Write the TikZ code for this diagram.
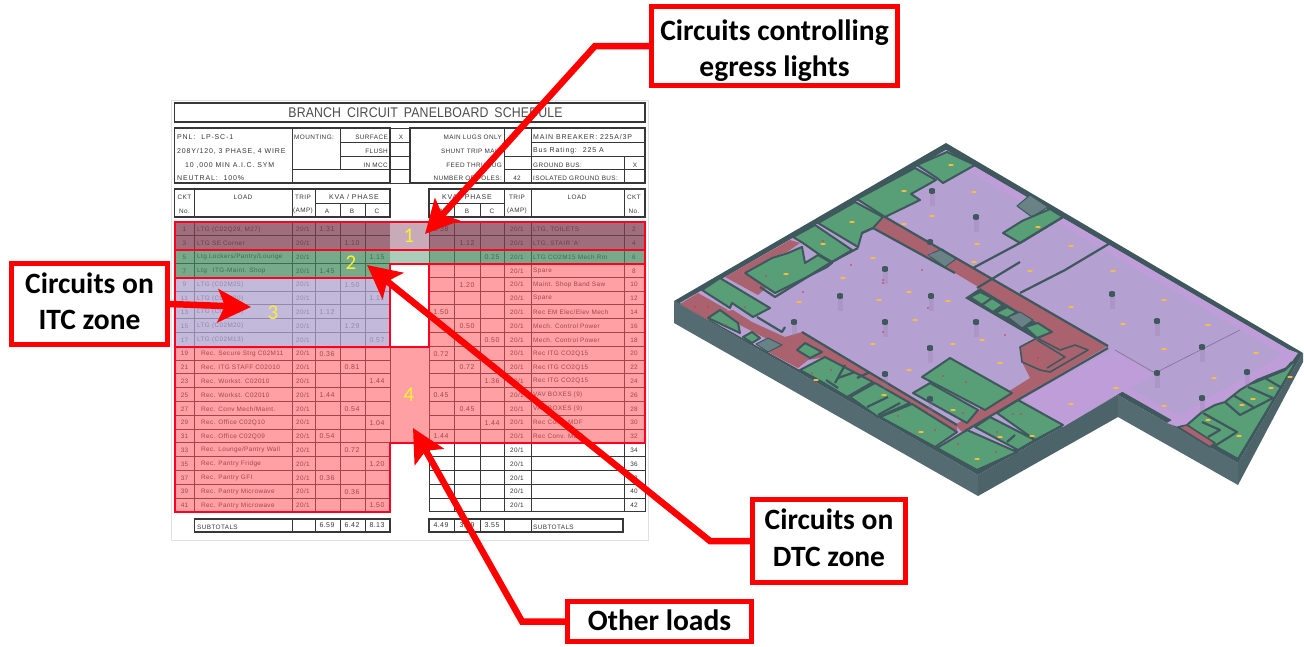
\documentclass[tikz,border=0pt]{standalone}
\usepackage{fontspec}
\usetikzlibrary{arrows.meta}
\setmainfont{Liberation Sans}
\newfontfamily\cad[LetterSpace=6]{Liberation Sans}
\newfontfamily\cadw[LetterSpace=12]{Liberation Sans}
\newfontfamily\ttl[FakeStretch=0.88,LetterSpace=1]{Liberation Sans}
\newfontfamily\lab{Carlito}
\newcommand{\shiftline}[2]{\raisebox{#1}[\height][\depth]{#2}}
\definecolor{ink}{RGB}{55,55,55}
\definecolor{rd}{RGB}{255,0,0}
\definecolor{zr}{RGB}{255,0,35}
\definecolor{zmar}{RGB}{128,62,82}
\definecolor{zgrn}{RGB}{62,134,91}
\definecolor{zpur}{RGB}{175,162,208}
\definecolor{zpnk}{RGB}{255,82,91}
\definecolor{midmar}{RGB}{200,170,185}
\definecolor{midgrn}{RGB}{170,205,185}
\definecolor{ylw}{RGB}{250,240,50}
\definecolor{wallc}{RGB}{62,88,93}
\definecolor{wallf}{RGB}{84,108,113}
\definecolor{wallg}{RGB}{76,100,105}
\definecolor{flr}{RGB}{180,160,209}
\definecolor{flrb}{RGB}{191,157,216}
\definecolor{grnf}{RGB}{88,158,118}
\definecolor{marf}{RGB}{170,98,110}
\definecolor{gryf}{RGB}{104,130,134}
\definecolor{lite}{RGB}{250,190,60}
\definecolor{dot}{RGB}{215,50,70}
\tikzset{
 x=1pt,y=-1pt,
 cell/.style={font=\cad\fontsize{6.4}{7}\selectfont,text=ink,inner sep=0pt},
 cellw/.style={font=\cadw\fontsize{7}{8}\selectfont,text=ink,inner sep=0pt},
 tline/.style={draw=ink,line width=0.9pt},
 tbox/.style={draw=ink,line width=1.1pt},
 zedge/.style={draw=zr,line width=2.4pt,line join=miter},
 zedgeb/.style={draw=zr,line width=1.4pt},
 num/.style={font=\lab\fontsize{21}{21}\selectfont,text=ylw,inner sep=0pt},
 call/.style={draw=rd,line width=5pt,fill=white,align=center,inner sep=0pt,
   font=\lab\bfseries\fontsize{29.5}{35}\selectfont,text=black},
 arr/.style={draw=rd,line width=6.5pt,line join=miter,
   -{Stealth[length=33pt,width=33pt,inset=7pt]}},
 room/.style={fill=grnf,draw=wallc,line width=2pt,line join=round},
 mroom/.style={fill=marf,draw=wallc,line width=1.6pt,line join=round},
 gland/.style={fill=gryf,draw=wallc,line width=1pt,line join=round},
 wl/.style={draw=wallc,line width=2.2pt,line join=round},
}
\begin{document}
\begin{tikzpicture}
\useasboundingbox (0,0) rectangle (1304,646);
\fill[white] (0,0) rectangle (1304,646);
%% ---------- schedule sheet
\draw[black!12,line width=0.8pt] (171,100) rectangle (648,540);
\draw[tbox] (174.5,103) rectangle (645,122);
\node[cell,font=\ttl\fontsize{14}{14}\selectfont,text=black!70] (title) at (425.5,113) {BRANCH\hspace{6pt}CIRCUIT\hspace{6pt}PANELBOARD\hspace{6pt}SCHEDULE};
% info block
\draw[tbox] (174.5,128) rectangle (390,183);
\draw[tbox] (410,128) rectangle (645,183);
\draw[tline] (292,128)--(292,183) (340,128)--(340,169) (390,128)--(390,183);
\draw[tline] (340,142)--(410,142) (340,156)--(410,156) (292,169)--(410,169);
\draw[tline] (390,128)--(410,128) (390,183)--(410,183);
\draw[tline] (504,128)--(504,183) (531,128)--(531,183) (624,156)--(624,183);
\draw[tline] (531,142)--(645,142) (504,156)--(645,156) (504,169)--(645,169);
\node[cellw,anchor=west] (i1) at (177,137) {PNL:\hspace{6pt}LP-SC-1};
\node[cellw,anchor=west] (i2) at (177,151) {208Y/120, 3 PHASE, 4 WIRE};
\node[cellw,anchor=west] (i3) at (185,165) {10 ,000 MIN A.I.C. SYM};
\node[cellw,anchor=west] (i4) at (177,178) {NEUTRAL:\hspace{6pt}100\%};
\node[cell,anchor=west] (i5) at (294,137) {MOUNTING:};
\node[cell,anchor=east] (i6) at (388,137) {SURFACE};
\node[cell,anchor=east] (i7) at (388,151) {FLUSH};
\node[cell,anchor=east] (i8) at (388,165) {IN MCC};
\node[cell] (i9) at (401,137) {X};
\node[cell,anchor=east] (i10) at (502,137) {MAIN LUGS ONLY};
\node[cell,anchor=east] (i11) at (502,151) {SHUNT TRIP MAIN};
\node[cell,anchor=east] (i12) at (502,165) {FEED THRU LUG};
\node[cell,anchor=east] (i13) at (502,178) {NUMBER OF POLES:};
\node[cell] (i14) at (517,178) {42};
\node[cellw,anchor=west] (i15) at (533,137) {MAIN BREAKER: 225A/3P};
\node[cellw,anchor=west] (i16) at (533,151) {Bus Rating:\hspace{6pt}225 A};
\node[cell,anchor=west] (i17) at (533,165) {GROUND BUS:};
\node[cell,anchor=west] (i18) at (533,178) {ISOLATED GROUND BUS:};
\node[cell] (i19) at (635,165) {X};
% header
\draw[tbox] (174.5,189) rectangle (390,217);
\draw[tbox] (429,189) rectangle (645,217);
\draw[tline] (194.5,189)--(194.5,217) (292,189)--(292,217) (315,189)--(315,217)
  (315,203)--(390,203) (340,203)--(340,217) (365,203)--(365,217);
\draw[tline] (504,189)--(504,217) (531,189)--(531,217) (624,189)--(624,217)
  (429,203)--(504,203) (454,203)--(454,217) (480,203)--(480,217);
\node[cell] (h1) at (184.5,197) {CKT};
\node[cell] (h2) at (184.5,211) {No.};
\node[cell] (h3) at (243,197) {LOAD};
\node[cell] (h4) at (303,197) {TRIP};
\node[cell] (h5) at (303,211) {(AMP)};
\node[cellw] (h6) at (354,197) {KVA / PHASE};
\node[cell] (h7) at (327,211) {A};
\node[cell] (h8) at (352,211) {B};
\node[cell] (h9) at (377,211) {C};
\node[cellw] (h10) at (467,197) {KVA / PHASE};
\node[cell] (h11) at (441,211) {A};
\node[cell] (h12) at (467,211) {B};
\node[cell] (h13) at (492,211) {C};
\node[cell] (h14) at (517,197) {TRIP};
\node[cell] (h15) at (517,211) {(AMP)};
\node[cell] (h16) at (577,197) {LOAD};
\node[cell] (h17) at (634,197) {CKT};
\node[cell] (h18) at (634,211) {No.};
% body lines
\foreach \r in {0,...,21}{
  \pgfmathsetmacro\yy{222+13.8*\r}
  \draw[tline] (175,\yy)--(390,\yy) (429,\yy)--(645,\yy);
}
\draw[tline] (175,222)--(175,512) (194.5,222)--(194.5,512) (292,222)--(292,512) (315,222)--(315,512)
  (340,222)--(340,512) (365,222)--(365,512) (390,222)--(390,512);
\draw[tline] (429,222)--(429,512) (454,222)--(454,512) (480,222)--(480,512) (504,222)--(504,512)
  (531,222)--(531,512) (624,222)--(624,512) (645,222)--(645,512);
\foreach \r in {0,...,20}{
  \pgfmathsetmacro\yy{222+13.8*\r+7.4}
  \pgfmathtruncatemacro\lnum{2*\r+1}
  \pgfmathtruncatemacro\rnum{2*\r+2}
  \node[cell] (ln\r) at (184.5,\yy) {\lnum};
  \node[cell] (lt\r) at (303,\yy) {20/1};
  \node[cell] (rt\r) at (517,\yy) {20/1};
  \node[cell] (rn\r) at (634,\yy) {\rnum};
}
\foreach \r/\l in {0/{LTG (C02Q29, M27)},1/{LTG SE Corner},2/{Ltg Lockers/Pantry/Lounge},3/{Ltg\hspace{6pt}ITG-Maint. Shop},
  4/{LTG (C02M25)},5/{LTG (C02M20)},6/{LTG (C02M20)},7/{LTG (C02M20)},8/{LTG (C02M13)},
  9/{Rec. Secure Strg C02M11},10/{Rec. ITG STAFF C02010},11/{Rec. Workst. C02010},12/{Rec. Workst. C02010},
  13/{Rec. Conv Mech/Maint.},14/{Rec. Office C02Q10},15/{Rec. Office C02Q09},16/{Rec. Lounge/Pantry Wall},
  17/{Rec. Pantry Fridge},18/{Rec. Pantry GFI},19/{Rec. Pantry Microwave},20/{Rec. Pantry Microwave}}{
  \pgfmathsetmacro\yy{222+13.8*\r+7.4}
  \pgfmathsetmacro\lx{\r<9?197:201}
  \node[cell,anchor=west] (ll\r) at (\lx,\yy) {\l};
}
\foreach \r/\l in {0/{LTG, TOILETS},1/{LTG, STAIR 'A'},2/{LTG CO2M15 Mech Rm},3/{Spare},4/{Maint. Shop Band Saw},5/{Spare},
  6/{Rec EM Elec/Elev Mech},7/{Mech. Control Power},8/{Mech. Control Power},9/{Rec ITG CO2Q15},10/{Rec ITG CO2Q15},
  11/{Rec ITG CO2Q15},12/{VAV BOXES (9)},13/{VAV BOXES (9)},14/{Rec Conv. MDF},15/{Rec Conv. MDF}}{
  \pgfmathsetmacro\yy{222+13.8*\r+7.4}
  \node[cell,anchor=west] (rl\r) at (533,\yy) {\l};
}
\foreach \r/\cx/\v in {0/327/1.31,1/352/1.10,2/377/1.15,3/327/1.45,4/352/1.50,5/377/1.12,6/327/1.12,7/352/1.29,8/377/0.57,
  9/327/0.36,10/352/0.81,11/377/1.44,12/327/1.44,13/352/0.54,14/377/1.04,15/327/0.54,16/352/0.72,17/377/1.20,
  18/327/0.36,19/352/0.36,20/377/1.50}{
  \pgfmathsetmacro\yy{222+13.8*\r+7.4}
  \node[cell,font=\cad\fontsize{7}{8}\selectfont] (lv\r) at (\cx,\yy) {\v};
}
\foreach \r/\cx/\v in {0/441/0.38,1/467/1.12,2/492/0.25,4/467/1.20,6/441/1.50,7/467/0.50,8/492/0.50,
  9/441/0.72,10/467/0.72,11/492/1.36,12/441/0.45,13/467/0.45,14/492/1.44,15/441/1.44}{
  \pgfmathsetmacro\yy{222+13.8*\r+7.4}
  \node[cell,font=\cad\fontsize{7}{8}\selectfont] (rv\r) at (\cx,\yy) {\v};
}
% subtotals
\draw[tbox] (194.5,519) rectangle (390,532);
\draw[tline] (292,519)--(292,532) (315,519)--(315,532) (340,519)--(340,532) (365,519)--(365,532);
\draw[tbox] (429,519) rectangle (623,532);
\draw[tline] (454,519)--(454,532) (480,519)--(480,532) (504,519)--(504,532) (531,519)--(531,532);
\node[cell,anchor=west] (s1) at (197,527) {SUBTOTALS};
\node[cell,font=\cad\fontsize{7}{8}\selectfont] (s2) at (327,525.5) {6.59};
\node[cell,font=\cad\fontsize{7}{8}\selectfont] (s3) at (352,525.5) {6.42};
\node[cell,font=\cad\fontsize{7}{8}\selectfont] (s4) at (377,525.5) {8.13};
\node[cell,font=\cad\fontsize{7}{8}\selectfont] (s5) at (441,525.5) {4.49};
\node[cell,font=\cad\fontsize{7}{8}\selectfont] (s6) at (467,525.5) {3.99};
\node[cell,font=\cad\fontsize{7}{8}\selectfont] (s7) at (492,525.5) {3.55};
\node[cell,anchor=west] (s8) at (533,527) {SUBTOTALS};
%% ---------- zones
\fill[zmar,fill opacity=0.75] (175,222) rectangle (390,250) (429,222) rectangle (645,250);
\fill[midmar] (390,222) rectangle (429,250);
\fill[zgrn,fill opacity=0.7] (175,250) rectangle (390,278) (429,250) rectangle (645,264);
\fill[midgrn] (390,250) rectangle (429,264);
\fill[zpur,fill opacity=0.75] (175,278) rectangle (390,346);
\fill[zpnk,fill opacity=0.55] (175,347)--(429,347)--(429,264)--(645,264)--(645,443)--(390,443)--(390,512)--(175,512)--cycle;
\draw[zedgeb] (175,347)--(429,347)--(429,264)--(645,264)--(645,443)--(390,443)--(390,512)--(175,512)--cycle;
\draw[zedgeb] (175,278) rectangle (390,346.5);
\draw[zedge] (175,250)--(645,250)--(645,264)--(390,264)--(390,278)--(175,278)--cycle;
\draw[zedge] (175,222) rectangle (645,250);
\node[num] (n1) at (409,236) {1};
\node[num] (n2) at (351,263) {2};
\node[num] (n3) at (273,313) {3};
\node[num] (n4) at (409,395) {4};
%% ---------- building
\fill[wallf] (674,301)--(978,475)--(978,496)--(674,323)--cycle;
\fill[wallg] (978,475)--(1118,395)--(1118,417)--(978,496)--cycle;
\fill[wallf] (1118,395)--(1238,463)--(1238,485)--(1118,417)--cycle;
\fill[wallg] (1238,463)--(1303,353)--(1303,362)--(1238,485)--cycle;
\fill[wallc] (674,301)--(946,143)--(1303,353)--(1238,463)--(1118,395)--(978,475)--cycle;
\begin{scope}
\clip (680,303)--(946,150)--(1296,354)--(1237,457)--(1118,389)--(978,469)--cycle;
\fill[flr] (660,130) rectangle (1304,500);
\draw[flrb,line width=14pt] (680,303)--(946,150)--(1296,354)--(1237,457)--(1118,389)--(978,469)--cycle;
\end{scope}
% tinted floor zones
\fill[flrb] (1023,398)--(1112,350)--(1155,375)--(1120,393)--(1063,427)--cycle;
\fill[flrb] (1167,423)--(1290,350)--(1298,353)--(1287,368)--(1215,405)--(1203,413)--(1178,427)--cycle;
\draw[flrb!70!black,line width=0.6pt] (1115,350)--(1155,373)--(1240,330);
% corridors
\fill[marf] (873,228)--(885,217)--(1108,346)--(962,432)--(955,425)--(1030,378)--(1022,362)--(1020,348)--(1037,340)--(1052,332)--(980,288)--(955,273)--(875,228)--cycle;
\fill[marf] (733,310)--(752,322)--(785,337)--(802,332)--(957,425)--(957,434)--(825,357)--(808,360)--(798,368)--(768,352)--(780,345)--(763,337)--(740,325)--(720,312)--cycle;
\fill[marf] (680,304)--(698,293)--(728,310)--(708,320)--cycle;
\fill[marf] (790,240)--(725,277)--(758,295)--(767,287)--(743,273)--(772,257)--(787,252)--(800,243)--cycle;
% rooms NW
\path[room] (947,152)--(917,165)--(937,178)--(943,183)--(975,165)--cycle;
\path[room] (915,168)--(857,199)--(885,217)--(920,200)--(911,194)--(936,180)--cycle;
\path[room] (855,202)--(818,223)--(858,247)--(862,233)--(873,228)--(883,217)--cycle;
\path[room] (815,225)--(793,237)--(803,243)--(820,255)--(832,262)--(852,250)--cycle;
\path[room] (772,258)--(745,273)--(775,293)--(827,267)--(832,263)--(818,255)--(805,263)--(802,247)--(788,253)--cycle;
\path[room] (720,278)--(702,290)--(730,308)--(732,303)--(753,317)--(770,308)--cycle;
\path[room] (708,318)--(720,310)--(738,323)--(740,333)--cycle;
\path[room] (743,337)--(752,332)--(760,338)--(752,343)--cycle;
\path[gland] (756,344)--(768,338)--(782,345)--(768,352)--cycle;
% rooms SW
\path[room] (797,350)--(805,343)--(822,352)--(810,358)--cycle;
\path[room] (800,370)--(825,357)--(873,382)--(847,397)--(822,382)--cycle;
\path[room] (850,397)--(875,383)--(910,403)--(878,417)--cycle;
\path[room] (880,417)--(912,404)--(957,432)--(935,447)--cycle;
\path[room] (937,448)--(967,430)--(1017,452)--(977,470)--cycle;
\path[room] (975,427)--(990,417)--(1035,440)--(1018,450)--cycle;
\path[room] (997,413)--(1018,400)--(1063,425)--(1035,440)--cycle;
\draw[wl] (835,383)--(845,365) (838,378)--(855,372) (857,378)--(870,372) (867,407)--(888,397) (878,415)--(900,403) (1007,442)--(1015,435) (826,380)--(838,388);
% central rooms
\path[room] (922,377)--(950,358)--(1012,393)--(985,410)--cycle;
\path[room] (913,393)--(930,383)--(978,410)--(967,423)--cycle;
% corridor block
\fill[wallc] (965,298)--(980,288)--(1052,332)--(1037,340)--cycle;
\path[room] (970,297)--(980,292)--(992,298)--(982,305)--cycle;
\path[room] (982,305)--(992,298)--(1003,305)--(993,312)--cycle;
\path[room] (995,313)--(1007,307)--(1017,312)--(1007,318)--cycle;
\path[room] (1025,327)--(1038,323)--(1052,332)--(1037,338)--cycle;
\path[gland] (1008,317)--(1020,312)--(1033,320)--(1022,328)--cycle;
\path[gland] (928,255)--(942,249)--(956,259)--(945,267)--cycle;
\path[gland] (1017,206)--(1030,195)--(1048,207)--(1032,217)--cycle;
\path[mroom] (1020,347)--(1037,338)--(1060,350)--(1075,345)--(1088,350)--(1050,372)--(1040,370)--(1022,362)--cycle;
\draw[wl,line width=1.5pt] (1037,340)--(1065,357)--(1047,368);
% room NE
\path[room] (1022,221)--(1050,209)--(1063,217)--(1020,243)--(1003,233)--cycle;
% long walls
\draw[wl] (873,228)--(955,273) (977,288)--(1020,262);
\draw[wl] (885,217)--(1108,346) (1108,348)--(1023,397)--(965,431);
\draw[wl] (973,268)--(1020,243)--(1063,217);
\draw[wl] (1020,293)--(1065,270)--(1112,242);
\draw[wl] (858,248)--(830,263)--(775,297)--(760,287);
\draw[wl] (757,317)--(782,332)--(785,327) (802,332)--(957,425);
\draw[wl] (862,233)--(873,228);
% rooms SE
\path[room] (1187,425)--(1202,412)--(1215,405)--(1225,402)--(1240,390)--(1257,380)--(1287,368)--(1299,357)--(1238,459)--(1213,445)--cycle;
\path[mroom] (1178,427)--(1187,425)--(1215,443)--(1210,447)--cycle;
\draw[wl] (1203,413)--(1237,432)--(1213,447) (1225,402)--(1240,415)--(1273,398)--(1248,387)
  (1233,395)--(1253,407) (1265,378)--(1282,388) (1253,383)--(1285,370)--(1292,362)
  (1202,422)--(1220,430)--(1208,437);
% columns
\foreach \x/\y in {932/191,976/217,930/242,885/269,840/296,931/296,794/322,885/322,885/374,976/322,930/348,1112/294,1157/321,1202/347,1157/373,1202/398,1247/372,930/399}{
  \fill[flrb!75!black,fill opacity=0.22] (\x-2.5,\y) rectangle (\x+2.5,\y+15);
  \fill[wallc] (\x-3,\y-1.5) rectangle (\x+3,\y+1.5);
  \fill[wallc] (\x,\y-1.5) ellipse (3 and 1.5);
  \fill[wallc] (\x,\y+1.5) ellipse (3 and 1.5);
}
% lights
\foreach \x/\y in {951/165,904/191,974/192,932/216,904/224,852/222,823/244,977/244,974/262,873/258,786/274,843/278,909/292,879/300,948/301,799/302,
  1038/227,1071/246,1030/271,1113/271,1164/300,1071/307,915/320,982/340,953/344,1000/363,909/370,1123/324,1208/325,1164/349,1256/353,1214/378,1116/388,1071/404,1164/406,1290/377,1271/388,1253/399,1242/405,1208/420,1239/436,1032/436,1000/437,977/459,921/432,884/395,953/410,873/344,816/380}{
  \fill[lite] (\x,\y) ellipse (2.8 and 1);
}
% red devices
\foreach \x/\y in {823/241,766/276,695/307,708/307,745/307,851/265,922/270,883/280,883/283,803/292,928/308,726/325,812/373,831/370,943/376,966/382,963/413,898/416,935/430,958/444,996/452,997/432,1013/414,1021/414,1038/358,1005/335,883/332}{
  \fill[dot] (\x,\y) circle (0.9);
}
%% ---------- callouts
\node[call,minimum width=246pt,minimum height=79pt] (boxA) at (774.5,46) {\shiftline{-4pt}{Circuits controlling}\\\shiftline{-5pt}{egress lights}};
\node[call,minimum width=156pt,minimum height=81pt] (boxB) at (89.5,304) {\shiftline{3pt}{Circuits on}\\\shiftline{2pt}{ITC zone}};
\node[call,minimum width=153pt,minimum height=83pt] (boxC) at (829,541) {\shiftline{4pt}{Circuits on}\\\shiftline{2pt}{DTC zone}};
\node[call,minimum width=184pt,minimum height=40pt] (boxD) at (659.5,621.5) {\shiftline{1pt}{Other loads}};
\coordinate (kneeA) at (595,46);
\coordinate (tipA) at (425,234);
\coordinate (tipB) at (251,307);
\coordinate (kneeC) at (710,541);
\coordinate (tipC) at (367,265);
\coordinate (kneeD) at (522,621.5);
\coordinate (tipD) at (413,428);
\draw[arr] (boxA.west)--(kneeA)--(tipA);
\draw[arr] (boxB.east)--(tipB);
\draw[arr] (boxC.west)--(kneeC)--(tipC);
\draw[arr] (boxD.west)--(kneeD)--(tipD);
\end{tikzpicture}
\end{document}
